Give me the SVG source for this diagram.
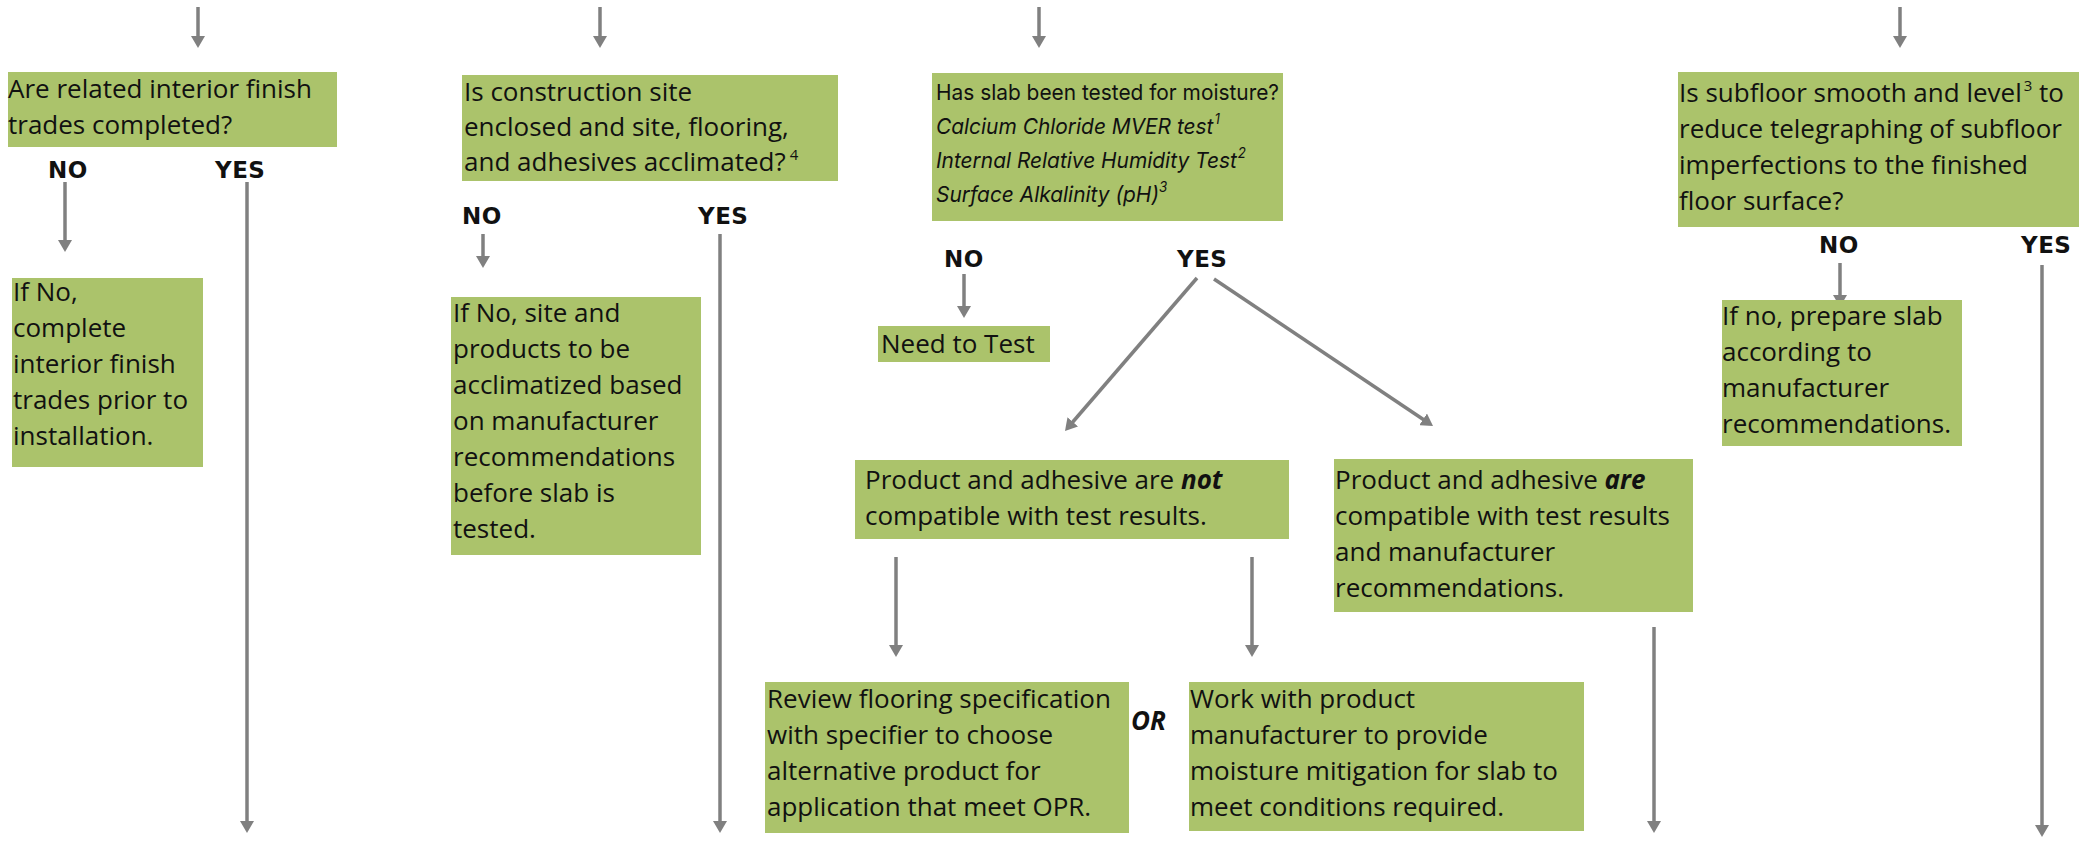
<svg xmlns="http://www.w3.org/2000/svg" width="2079" height="852" viewBox="0 0 2079 852">
<defs>
<style>
.box{fill:#abc36b}
.t{font-family:"Open Sans","Liberation Sans",sans-serif;font-size:26px;fill:#111}
.ti{font-family:Inter,"Open Sans",sans-serif;font-size:22px;fill:#111}
.it{font-style:italic}
.sup{font-size:15px}
.supi{font-size:14px}
.lbl{font-family:"DejaVu Sans","Liberation Sans",sans-serif;font-size:23px;font-weight:700;letter-spacing:0.5px;fill:#111}
.bi{font-weight:700;font-style:italic}
.or{font-family:"Open Sans","Liberation Sans",sans-serif;font-size:26px;font-weight:700;font-style:italic;fill:#111}
.c{stroke:#808080;stroke-width:3.5;fill:none;marker-end:url(#ah)}
</style>
<marker id="ah" markerUnits="userSpaceOnUse" viewBox="0 0 12 14" refX="8" refY="7" markerWidth="12" markerHeight="14" orient="auto"><path d="M0,0 L12,7 L0,14 z" fill="#808080"/></marker>
</defs>
<rect width="2079" height="852" fill="#fff"/>

<g id="connectors">
<path class="c" d="M198,7 V44"/>
<path class="c" d="M600,7 V44"/>
<path class="c" d="M1039,7 V44"/>
<path class="c" d="M1900,7 V44"/>
<path class="c" d="M65,182 V248"/>
<path class="c" d="M247,182 V829"/>
<path class="c" d="M483,234 V264"/>
<path class="c" d="M720,234 V829"/>
<path class="c" d="M964,274 V314"/>
<path class="c" d="M1197,278 L1067.6,428"/>
<path class="c" d="M1214,279 L1429.7,423.8"/>
<path class="c" d="M896,557 V653"/>
<path class="c" d="M1252,557 V653"/>
<path class="c" d="M1654,627 V829"/>
<path class="c" d="M1840,263 V303"/>
<path class="c" d="M2042,265 V833"/>
</g>

<g id="labels">
<text class="lbl" x="48" y="178">NO</text>
<text class="lbl" x="215" y="178">YES</text>
<text class="lbl" x="462" y="224">NO</text>
<text class="lbl" x="698" y="224">YES</text>
<text class="lbl" x="944" y="267">NO</text>
<text class="lbl" x="1177" y="267">YES</text>
<text class="lbl" x="1819" y="253">NO</text>
<text class="lbl" x="2021" y="253">YES</text>
<text class="or" x="1131" y="730">OR</text>
</g>

<g id="n-trades">
<rect class="box" x="8" y="72" width="329" height="75"/>
<text class="t" x="8" y="98">Are related interior finish</text>
<text class="t" x="8" y="134">trades completed?</text>
</g>

<g id="n-complete">
<rect class="box" x="12" y="278" width="191" height="189"/>
<text class="t" x="13" y="301">If No,</text>
<text class="t" x="13" y="337">complete</text>
<text class="t" x="13" y="373">interior finish</text>
<text class="t" x="13" y="409">trades prior to</text>
<text class="t" x="13" y="445">installation.</text>
</g>

<g id="n-site">
<rect class="box" x="462" y="75" width="376" height="106"/>
<text class="t" x="464" y="101">Is construction site</text>
<text class="t" x="464" y="136">enclosed and site, flooring,</text>
<text class="t" x="464" y="171">and adhesives acclimated?<tspan class="sup" dx="4" dy="-11">4</tspan></text>
</g>

<g id="n-acclimatize">
<rect class="box" x="451" y="297" width="250" height="258"/>
<text class="t" x="453" y="322">If No, site and</text>
<text class="t" x="453" y="358">products to be</text>
<text class="t" x="453" y="394">acclimatized based</text>
<text class="t" x="453" y="430">on manufacturer</text>
<text class="t" x="453" y="466">recommendations</text>
<text class="t" x="453" y="502">before slab is</text>
<text class="t" x="453" y="538">tested.</text>
</g>

<g id="n-moisture">
<rect class="box" x="932" y="73" width="351" height="148"/>
<text class="ti" transform="translate(936,100) scale(0.95,1)">Has slab been tested for moisture?</text>
<text class="ti it" transform="translate(936,134) scale(0.95,1)">Calcium Chloride MVER test<tspan class="supi" dx="1" dy="-10">1</tspan></text>
<text class="ti it" transform="translate(936,168) scale(0.95,1)">Internal Relative Humidity Test<tspan class="supi" dx="1" dy="-10">2</tspan></text>
<text class="ti it" transform="translate(936,202) scale(0.95,1)">Surface Alkalinity (pH)<tspan class="supi" dy="-10">3</tspan></text>
</g>

<g id="n-needtest">
<rect class="box" x="878" y="326" width="172" height="36"/>
<text class="t" x="881" y="353">Need to Test</text>
</g>

<g id="n-notcompat">
<rect class="box" x="855" y="460" width="434" height="79"/>
<text class="t" x="865" y="489">Product and adhesive are <tspan class="bi">not</tspan></text>
<text class="t" x="865" y="525">compatible with test results.</text>
</g>

<g id="n-compat">
<rect class="box" x="1334" y="459" width="359" height="153"/>
<text class="t" x="1335" y="489">Product and adhesive <tspan class="bi">are</tspan></text>
<text class="t" x="1335" y="525">compatible with test results</text>
<text class="t" x="1335" y="561">and manufacturer</text>
<text class="t" x="1335" y="597">recommendations.</text>
</g>

<g id="n-review">
<rect class="box" x="765" y="682" width="364" height="151"/>
<text class="t" x="767" y="708">Review flooring specification</text>
<text class="t" x="767" y="744">with specifier to choose</text>
<text class="t" x="767" y="780">alternative product for</text>
<text class="t" x="767" y="816">application that meet OPR.</text>
</g>

<g id="n-mitigation">
<rect class="box" x="1189" y="682" width="395" height="149"/>
<text class="t" x="1190" y="708">Work with product</text>
<text class="t" x="1190" y="744">manufacturer to provide</text>
<text class="t" x="1190" y="780">moisture mitigation for slab to</text>
<text class="t" x="1190" y="816">meet conditions required.</text>
</g>

<g id="n-subfloor">
<rect class="box" x="1678" y="72" width="401" height="155"/>
<text class="t" x="1679" y="102">Is subfloor smooth and level<tspan class="sup" dx="2" dy="-11">3</tspan><tspan dy="11"> to</tspan></text>
<text class="t" x="1679" y="138">reduce telegraphing of subfloor</text>
<text class="t" x="1679" y="174">imperfections to the finished</text>
<text class="t" x="1679" y="210">floor surface?</text>
</g>

<g id="n-prepare">
<rect class="box" x="1722" y="300" width="240" height="146"/>
<text class="t" x="1722" y="325">If no, prepare slab</text>
<text class="t" x="1722" y="361">according to</text>
<text class="t" x="1722" y="397">manufacturer</text>
<text class="t" x="1722" y="433">recommendations.</text>
</g>
</svg>
